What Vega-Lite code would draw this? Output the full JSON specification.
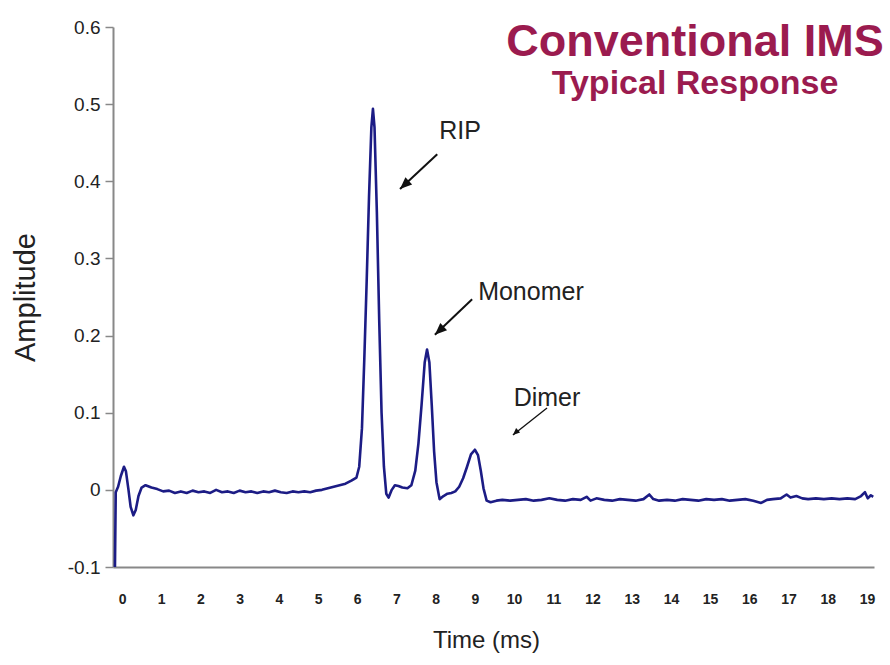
{
  "$schema": "https://vega.github.io/schema/vega-lite/v6.json",
  "autosize": {"type": "none"},
  "width": 761,
  "height": 540,
  "padding": {"left": 113, "top": 27, "right": 16, "bottom": 98},
  "background": "white",
  "config": {
    "view": {"stroke": null},
    "font": "Liberation Sans"
  },
  "title": {
    "text": "Conventional IMS",
    "subtitle": "Typical Response",
    "anchor": "end",
    "align": "center",
    "frame": "group",
    "dx": -179,
    "offset": -83,
    "font": "Liberation Sans",
    "fontSize": 45,
    "fontWeight": "bold",
    "color": "#9b1b4f",
    "subtitleFont": "Liberation Sans",
    "subtitleFontSize": 34,
    "subtitleFontWeight": "bold",
    "subtitleColor": "#9b1b4f",
    "subtitlePadding": 2
  },
  "datasets": {
    "trace": [
      {"t": -0.18, "a": -0.1}, {"t": -0.16, "a": -0.003}, {"t": -0.10, "a": 0.004}, {"t": -0.03, "a": 0.018},
      {"t": 0.05, "a": 0.030}, {"t": 0.10, "a": 0.024}, {"t": 0.16, "a": 0.002}, {"t": 0.22, "a": -0.022},
      {"t": 0.29, "a": -0.033}, {"t": 0.35, "a": -0.026}, {"t": 0.42, "a": -0.008}, {"t": 0.50, "a": 0.003},
      {"t": 0.60, "a": 0.006}, {"t": 0.75, "a": 0.003}, {"t": 0.90, "a": 0.001}, {"t": 1.05, "a": -0.002},
      {"t": 1.2, "a": -0.001}, {"t": 1.35, "a": -0.004}, {"t": 1.5, "a": -0.002}, {"t": 1.65, "a": -0.004},
      {"t": 1.8, "a": -0.001}, {"t": 1.95, "a": -0.003}, {"t": 2.1, "a": -0.002}, {"t": 2.25, "a": -0.004},
      {"t": 2.4, "a": 0.0}, {"t": 2.55, "a": -0.003}, {"t": 2.7, "a": -0.002}, {"t": 2.85, "a": -0.004},
      {"t": 3.0, "a": -0.001}, {"t": 3.15, "a": -0.003}, {"t": 3.3, "a": -0.002}, {"t": 3.45, "a": -0.004},
      {"t": 3.6, "a": -0.002}, {"t": 3.75, "a": -0.003}, {"t": 3.9, "a": -0.001}, {"t": 4.05, "a": -0.003},
      {"t": 4.2, "a": -0.004}, {"t": 4.35, "a": -0.002}, {"t": 4.5, "a": -0.003}, {"t": 4.65, "a": -0.002},
      {"t": 4.8, "a": -0.003}, {"t": 4.95, "a": -0.001}, {"t": 5.1, "a": 0.0}, {"t": 5.25, "a": 0.002},
      {"t": 5.4, "a": 0.004}, {"t": 5.55, "a": 0.006}, {"t": 5.7, "a": 0.008}, {"t": 5.85, "a": 0.012},
      {"t": 5.98, "a": 0.016}, {"t": 6.05, "a": 0.03}, {"t": 6.12, "a": 0.08}, {"t": 6.18, "a": 0.17},
      {"t": 6.24, "a": 0.27}, {"t": 6.30, "a": 0.38}, {"t": 6.36, "a": 0.47}, {"t": 6.40, "a": 0.494},
      {"t": 6.44, "a": 0.47}, {"t": 6.50, "a": 0.36}, {"t": 6.56, "a": 0.22}, {"t": 6.62, "a": 0.10},
      {"t": 6.68, "a": 0.03}, {"t": 6.74, "a": -0.005}, {"t": 6.80, "a": -0.010}, {"t": 6.88, "a": 0.0},
      {"t": 6.96, "a": 0.006}, {"t": 7.05, "a": 0.005}, {"t": 7.15, "a": 0.003}, {"t": 7.28, "a": 0.002},
      {"t": 7.38, "a": 0.006}, {"t": 7.48, "a": 0.025}, {"t": 7.56, "a": 0.06}, {"t": 7.64, "a": 0.11},
      {"t": 7.72, "a": 0.165}, {"t": 7.78, "a": 0.182}, {"t": 7.84, "a": 0.165}, {"t": 7.90, "a": 0.11},
      {"t": 7.96, "a": 0.05}, {"t": 8.02, "a": 0.01}, {"t": 8.10, "a": -0.012}, {"t": 8.20, "a": -0.008},
      {"t": 8.30, "a": -0.005}, {"t": 8.40, "a": -0.004}, {"t": 8.50, "a": -0.002}, {"t": 8.60, "a": 0.004},
      {"t": 8.70, "a": 0.015}, {"t": 8.80, "a": 0.030}, {"t": 8.90, "a": 0.046}, {"t": 9.00, "a": 0.052},
      {"t": 9.08, "a": 0.045}, {"t": 9.15, "a": 0.025}, {"t": 9.22, "a": 0.002}, {"t": 9.30, "a": -0.014},
      {"t": 9.40, "a": -0.016}, {"t": 9.55, "a": -0.014}, {"t": 9.7, "a": -0.013}, {"t": 9.9, "a": -0.014},
      {"t": 10.1, "a": -0.013}, {"t": 10.3, "a": -0.012}, {"t": 10.5, "a": -0.014}, {"t": 10.7, "a": -0.013},
      {"t": 10.9, "a": -0.011}, {"t": 11.1, "a": -0.013}, {"t": 11.3, "a": -0.014}, {"t": 11.5, "a": -0.012},
      {"t": 11.7, "a": -0.013}, {"t": 11.85, "a": -0.009}, {"t": 11.95, "a": -0.014}, {"t": 12.1, "a": -0.011},
      {"t": 12.3, "a": -0.013}, {"t": 12.5, "a": -0.014}, {"t": 12.7, "a": -0.012}, {"t": 12.9, "a": -0.013},
      {"t": 13.1, "a": -0.014}, {"t": 13.3, "a": -0.012}, {"t": 13.45, "a": -0.006}, {"t": 13.55, "a": -0.012},
      {"t": 13.7, "a": -0.014}, {"t": 13.9, "a": -0.013}, {"t": 14.1, "a": -0.014}, {"t": 14.3, "a": -0.012},
      {"t": 14.5, "a": -0.013}, {"t": 14.7, "a": -0.014}, {"t": 14.9, "a": -0.012}, {"t": 15.1, "a": -0.013},
      {"t": 15.3, "a": -0.012}, {"t": 15.5, "a": -0.014}, {"t": 15.7, "a": -0.013}, {"t": 15.9, "a": -0.012},
      {"t": 16.1, "a": -0.014}, {"t": 16.3, "a": -0.017}, {"t": 16.45, "a": -0.013}, {"t": 16.6, "a": -0.012},
      {"t": 16.8, "a": -0.011}, {"t": 16.95, "a": -0.006}, {"t": 17.05, "a": -0.010}, {"t": 17.2, "a": -0.008},
      {"t": 17.35, "a": -0.011}, {"t": 17.5, "a": -0.012}, {"t": 17.7, "a": -0.011}, {"t": 17.9, "a": -0.012},
      {"t": 18.1, "a": -0.011}, {"t": 18.3, "a": -0.012}, {"t": 18.5, "a": -0.011}, {"t": 18.7, "a": -0.012},
      {"t": 18.85, "a": -0.008}, {"t": 18.95, "a": -0.003}, {"t": 19.02, "a": -0.011}, {"t": 19.1, "a": -0.007},
      {"t": 19.16, "a": -0.009}
    ],
    "labels": [
      {"label": "RIP", "t": 8.62, "a": 0.465},
      {"label": "Monomer", "t": 10.43, "a": 0.257},
      {"label": "Dimer", "t": 10.84, "a": 0.119}
    ],
    "arrows": [
      {"label": "RIP", "t": 8.04, "a": 0.435, "t2": 7.09, "a2": 0.390},
      {"label": "Monomer", "t": 8.93, "a": 0.247, "t2": 7.98, "a2": 0.201},
      {"label": "Dimer", "t": 10.84, "a": 0.106, "t2": 9.97, "a2": 0.071}
    ]
  },
  "layer": [
    {
      "data": {"name": "trace"},
      "mark": {"type": "line", "color": "#1c1c85", "strokeWidth": 2.6, "clip": true, "strokeJoin": "round"},
      "encoding": {
        "x": {
          "field": "t", "type": "quantitative",
          "scale": {"domain": [-0.23, 19.18], "nice": false, "zero": false},
          "axis": {
            "values": [0,1,2,3,4,5,6,7,8,9,10,11,12,13,14,15,16,17,18,19],
            "title": "Time (ms)",
            "titleFont": "Liberation Sans", "titleFontSize": 24, "titleFontWeight": "normal",
            "titleColor": "#222", "titleX": 373, "titleY": 73, "titleBaseline": "middle",
            "ticks": false, "tickSize": 0, "grid": false,
            "labelPadding": 25, "labelFontSize": 14, "labelFontWeight": "bold",
            "labelColor": "#222", "labelFont": "Liberation Sans",
            "domainColor": "#888", "domainWidth": 2
          }
        },
        "y": {
          "field": "a", "type": "quantitative",
          "scale": {"domain": [-0.1, 0.6], "nice": false, "zero": false},
          "axis": {
            "values": [-0.1, 0, 0.1, 0.2, 0.3, 0.4, 0.5, 0.6],
            "labelExpr": "datum.value == 0 ? '0' : (datum.value < 0 ? '-' + format(-datum.value, '.1f') : format(datum.value, '.1f'))",
            "title": "Amplitude",
            "titleFont": "Liberation Sans", "titleFontSize": 29, "titleFontWeight": "normal",
            "titleColor": "#222", "titleX": -88, "titleY": 270, "titleAngle": -90,
            "titleBaseline": "middle", "titleAlign": "center",
            "grid": false, "tickSize": 8, "tickColor": "#888", "tickWidth": 1.5,
            "labelPadding": 5, "labelFontSize": 19, "labelColor": "#222",
            "labelFont": "Liberation Sans",
            "domainColor": "#888", "domainWidth": 2
          }
        }
      }
    },
    {
      "data": {"name": "arrows"},
      "mark": {"type": "rule", "color": "#111"},
      "encoding": {
        "x": {"field": "t", "type": "quantitative"},
        "y": {"field": "a", "type": "quantitative"},
        "x2": {"field": "t2"},
        "y2": {"field": "a2"},
        "strokeWidth": {"condition": {"test": "datum.label === 'Dimer'", "value": 1.3}, "value": 2}
      }
    },
    {
      "data": {"name": "arrows"},
      "mark": {"type": "point", "filled": true, "color": "#111", "opacity": 1,
               "shape": "M0,0L-0.7,1.7L0.7,1.7Z", "angle": 227},
      "encoding": {
        "x": {"field": "t2", "type": "quantitative"},
        "y": {"field": "a2", "type": "quantitative"},
        "size": {"condition": {"test": "datum.label === 'Dimer'", "value": 70}, "value": 200}
      }
    },
    {
      "data": {"name": "labels"},
      "mark": {"type": "text", "font": "Liberation Sans", "fontSize": 25, "color": "#222",
               "align": "center", "baseline": "middle"},
      "encoding": {
        "x": {"field": "t", "type": "quantitative"},
        "y": {"field": "a", "type": "quantitative"},
        "text": {"field": "label"}
      }
    }
  ]
}
